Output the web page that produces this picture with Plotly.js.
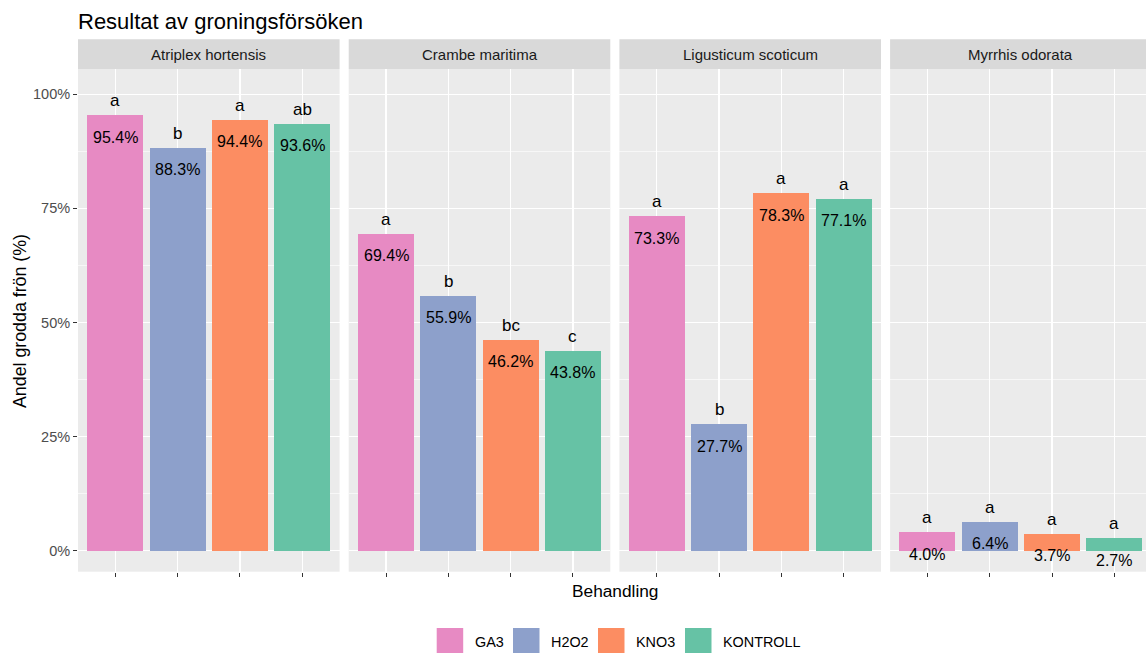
<!DOCTYPE html>
<html>
<head>
<meta charset="utf-8">
<script src="https://cdn.plot.ly/plotly-3.0.1.min.js"></script>
<style>html,body{margin:0;padding:0;background:#fff;}#chart{width:1146px;height:653px;}</style>
</head>
<body>
<div id="chart"></div>
<script>
// ---- data ----
const species = ["Atriplex hortensis", "Crambe maritima", "Ligusticum scoticum", "Myrrhis odorata"];
const treatments = ["GA3", "H2O2", "KNO3", "KONTROLL"];
const atriplexValues = [95.4, 88.3, 94.4, 93.6];
const crambeValues = [69.4, 55.9, 46.2, 43.8];
const ligusticumValues = [73.3, 27.7, 78.3, 77.1];
const myrrhisValues = [4.0, 6.4, 3.7, 2.7];
const atriplexLetters = ["a", "b", "a", "ab"];
const crambeLetters = ["a", "b", "bc", "c"];
const ligusticumLetters = ["a", "b", "a", "a"];
const myrrhisLetters = ["a", "a", "a", "a"];
const yTickValues = [0, 25, 50, 75, 100];
const yTickLabels = ["0%", "25%", "50%", "75%", "100%"];

// ---- styling ----
const treatmentColors = ["#E78AC3", "#8DA0CB", "#FC8D62", "#66C2A5"];
const W = 1146, H = 653;
const FONT = "Liberation Sans, Arial, sans-serif";
const px = v => v / W;
const py = v => 1 - v / H;

const allValues = [atriplexValues, crambeValues, ligusticumValues, myrrhisValues];
const allLetters = [atriplexLetters, crambeLetters, ligusticumLetters, myrrhisLetters];

const panelStart = 78, panelStep = 270.7, panelWidth = 261.6;
const plotTop = 69, plotBottom = 571.7, stripTop = 39.3;
const yRange = [-4.6, 105.55];

const traces = [];
const layout = {
  width: W, height: H,
  margin: {l: 0, r: 0, t: 0, b: 0},
  paper_bgcolor: "#FFFFFF",
  plot_bgcolor: "#EBEBEB",
  font: {family: FONT, color: "#000000"},
  showlegend: false,
  bargap: 0,
  title: {
    text: "Resultat av groningsförsöken",
    x: px(78), xanchor: "left", xref: "paper",
    y: py(21), yanchor: "middle",
    font: {family: FONT, size: 22, color: "#000000"}
  },
  shapes: [],
  annotations: []
};

species.forEach((sp, i) => {
  const n = i + 1;
  const xa = "x" + (n === 1 ? "" : n);
  const ya = "y" + (n === 1 ? "" : n);
  const x0 = panelStart + i * panelStep;
  const x1 = Math.min(x0 + panelWidth, W);
  const xTop = -0.6 + 4.2 * (x1 - x0) / panelWidth;

  traces.push({
    type: "bar",
    x: treatments,
    y: allValues[i],
    xaxis: xa, yaxis: ya,
    width: 0.9,
    marker: {color: treatmentColors, line: {width: 0}},
    hoverinfo: "skip",
    showlegend: false
  });

  layout["xaxis" + (n === 1 ? "" : n)] = {
    domain: [px(x0), px(x1)],
    anchor: ya,
    type: "category",
    range: [-0.6, xTop],
    showticklabels: false,
    ticks: "outside", ticklen: 4, tickwidth: 1, tickcolor: "#333333",
    showgrid: true, gridcolor: "#FFFFFF", gridwidth: 1.2,
    zeroline: false, showline: false, fixedrange: true
  };
  layout["yaxis" + (n === 1 ? "" : n)] = {
    domain: [py(plotBottom), py(plotTop)],
    anchor: xa,
    range: yRange,
    tickmode: "array",
    tickvals: yTickValues,
    ticktext: yTickLabels,
    showticklabels: n === 1,
    ticks: n === 1 ? "outside" : "",
    ticklen: 4, tickwidth: 1, tickcolor: "#333333",
    tickfont: {family: FONT, size: 14.5, color: "#4D4D4D"},
    showgrid: true, gridcolor: "#FFFFFF", gridwidth: 1.2,
    minor: {tickvals: [12.5, 37.5, 62.5, 87.5], showgrid: true, gridcolor: "#FFFFFF", gridwidth: 0.6, ticks: ""},
    zeroline: false, showline: false, fixedrange: true
  };

  // strip
  layout.shapes.push({
    type: "rect", xref: "paper", yref: "paper",
    x0: px(x0), x1: px(x1), y0: py(plotTop), y1: py(stripTop),
    fillcolor: "#D9D9D9", line: {width: 0}, layer: "below"
  });
  layout.annotations.push({
    text: sp, xref: "paper", yref: "paper",
    x: px(x0 + panelWidth / 2), y: py((plotTop + stripTop) / 2),
    xanchor: "center", yanchor: "middle", showarrow: false,
    font: {family: FONT, size: 15, color: "#1A1A1A"}
  });

  // bar labels
  treatments.forEach((t, j) => {
    const v = allValues[i][j];
    layout.annotations.push({
      text: v.toFixed(1) + "%", xref: xa, yref: ya, x: t, y: v,
      xanchor: "center", yanchor: "middle", yshift: -22, showarrow: false,
      font: {family: FONT, size: 16, color: "#000000"}
    });
    layout.annotations.push({
      text: allLetters[i][j], xref: xa, yref: ya, x: t, y: v,
      xanchor: "center", yanchor: "bottom", yshift: 3, showarrow: false,
      font: {family: FONT, size: 17, color: "#000000"}
    });
  });
});

// axis titles
layout.annotations.push({
  text: "Behandling", xref: "paper", yref: "paper",
  x: px(615), y: py(591), xanchor: "center", yanchor: "middle", showarrow: false,
  font: {family: FONT, size: 17.3, color: "#000000"}
});
layout.annotations.push({
  text: "Andel grodda frön (%)", xref: "paper", yref: "paper",
  x: px(20), y: py(321), xanchor: "center", yanchor: "middle", textangle: -90, showarrow: false,
  font: {family: FONT, size: 17.8, color: "#000000"}
});

// legend (drawn manually)
const legendKeyX = [436.7, 513, 598, 685];
treatments.forEach((t, j) => {
  const kx = legendKeyX[j];
  layout.shapes.push({
    type: "rect", xref: "paper", yref: "paper",
    x0: px(kx), x1: px(kx + 26.5), y0: py(655), y1: py(628),
    fillcolor: treatmentColors[j], line: {width: 0}
  });
  layout.annotations.push({
    text: t, xref: "paper", yref: "paper",
    x: px(kx + 36), y: py(642), xanchor: "left", yanchor: "middle", showarrow: false,
    font: {family: FONT, size: 14.4, color: "#000000"}
  });
});

Plotly.newPlot("chart", traces, layout, {displayModeBar: false, staticPlot: true});
</script>
</body>
</html>
